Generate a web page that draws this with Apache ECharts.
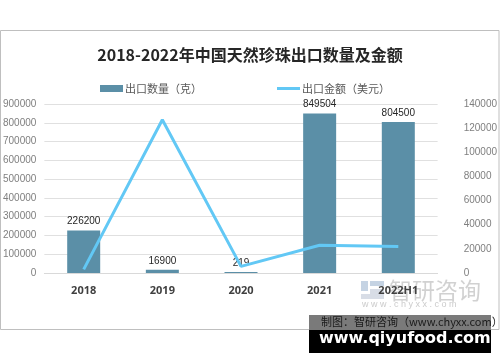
<!DOCTYPE html>
<html><head><meta charset="utf-8">
<script src="https://cdn.jsdelivr.net/npm/echarts@6/dist/echarts.min.js"></script>
<style>html,body{margin:0;padding:0;background:#fff}#c{width:500px;height:362px}</style>
</head><body><div id="c"></div>
<script>
const categories = ['2018','2019','2020','2021','2022H1'];
const quantity = [226200, 16900, 219, 849504, 804500];
const amount = [3000, 127000, 5500, 23000, 22000];
const leftTicks = {min:0, max:900000, interval:100000};
const rightTicks = {min:0, max:140000, interval:20000};

const chart = echarts.init(document.getElementById('c'));
const cjk = '"Noto Sans CJK SC", "Noto Sans", sans-serif';
const plain = v => String(v);
chart.setOption({
  animation:false,
  backgroundColor:'#fff',
  title:{text:'2018-2022年中国天然珍珠出口数量及金额', left:'center', top:42,
    textStyle:{fontFamily:cjk, fontSize:16, fontWeight:'bold', color:'#262626'}},
  legend:[
    {top:78, left:95, itemWidth:23, itemHeight:7, itemGap:2,
      textStyle:{fontFamily:cjk, fontSize:11, color:'#595959', padding:[0,0,0,-3]},
      data:[{name:'出口数量（克）', icon:'rect'}]},
    {top:78, left:272, itemWidth:23, itemHeight:3,
      textStyle:{fontFamily:cjk, fontSize:11, color:'#595959', padding:[0,0,0,-3]},
      data:[{name:'出口金额（美元）', icon:'rect'}]}
  ],
  grid:{left:41, right:41, top:104, bottom:89, containLabel:false},
  xAxis:{type:'category', data:categories,
    axisLine:{lineStyle:{color:'#d9d9d9'}}, axisTick:{show:false},
    axisLabel:{margin:12, fontFamily:'"Open Sans", sans-serif', fontWeight:'bold', fontSize:11, color:'#404040'}},
  yAxis:[
    {type:'value', min:leftTicks.min, max:leftTicks.max, interval:leftTicks.interval,
      axisLabel:{formatter:plain, fontFamily:'"Liberation Sans", sans-serif', fontSize:10, color:'#7f7f7f', margin:8, align:'right'},
      splitLine:{lineStyle:{color:'#e0e0e0'}}, axisLine:{show:false}, axisTick:{show:false}},
    {type:'value', min:rightTicks.min, max:rightTicks.max, interval:rightTicks.interval,
      axisLabel:{formatter:plain, fontFamily:'"Liberation Sans", sans-serif', fontSize:10, color:'#7f7f7f', margin:26},
      splitLine:{show:false}, axisLine:{show:false}, axisTick:{show:false}}
  ],
  series:[
    {name:'出口数量（克）', type:'bar', data:quantity, barWidth:33, barMinHeight:1,
      itemStyle:{color:'#5b8fa7'},
      label:{show:true, position:'top', distance:4, fontFamily:'"Liberation Sans", sans-serif', fontSize:10, color:'#262626'}},
    {name:'出口金额（美元）', type:'line', yAxisIndex:1, data:amount, symbol:'none',
      lineStyle:{color:'#62c8f5', width:3}, itemStyle:{color:'#62c8f5'}, z:3}
  ],
  graphic:[
    {type:'rect', shape:{x:0.5, y:30.5, width:498.5, height:299}, style:{fill:null, stroke:'#bfbfbf', lineWidth:1}, z:-1},
    {type:'group', left:361, top:281, children:[
      {type:'rect', shape:{x:0,y:0,width:7,height:10}, style:{fill:'#c5d3e3'}},
      {type:'rect', shape:{x:9,y:0,width:14,height:5}, style:{fill:'#c5d3e3'}},
      {type:'rect', shape:{x:9,y:8,width:14,height:5}, style:{fill:'#d8dde6'}},
      {type:'rect', shape:{x:0,y:13,width:23,height:5}, style:{fill:'#d8dde6'}}
    ]},
    {type:'text', left:389, top:279, style:{text:'智研咨询', fontFamily:cjk, fontSize:23, fill:'rgba(190,190,190,0.7)'}},
    {type:'text', left:362, top:300, style:{text:'w w w . c h y x x . c o m', fontFamily:'"Liberation Sans", sans-serif', fontSize:9, fill:'rgba(190,190,190,0.8)'}},
    {type:'rect', shape:{x:309, y:315, width:182, height:15}, style:{fill:'#7a7a7a'}},
    {type:'rect', shape:{x:309, y:330, width:182, height:23}, style:{fill:'#000'}},
    {type:'text', left:321, top:316, style:{text:'制图：智研咨询（www.chyxx.com）', fontFamily:cjk, fontSize:11, fill:'#1a1a1a'}},
    {type:'text', left:319, top:331, style:{text:'www.qiyufood.com', fontFamily:'"DejaVu Sans", sans-serif', fontWeight:'bold', fontSize:16, fill:'#fff'}}
  ]
});
</script></body></html>
